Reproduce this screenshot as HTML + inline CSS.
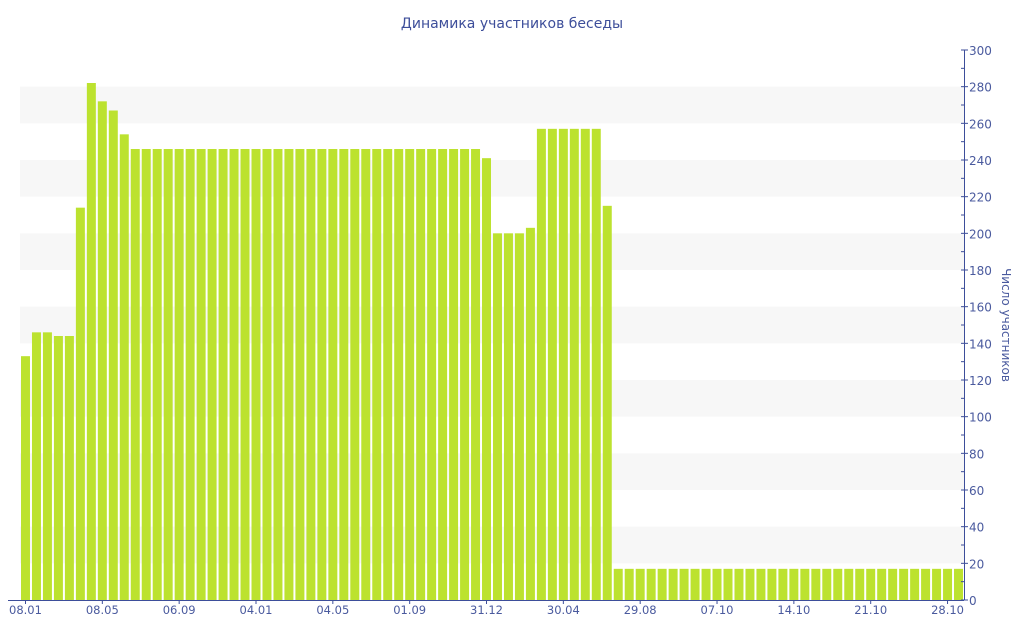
<!DOCTYPE html>
<html><head><meta charset="utf-8"><style>
body{margin:0;background:#fff;}
svg{display:block;font-family:"DejaVu Sans","Liberation Sans",sans-serif;}
</style></head><body>
<svg id="c" width="1024" height="640" xmlns="http://www.w3.org/2000/svg"></svg>
<script>
const s=document.getElementById('c');let h='';
const Y=v=>600-v*550/300;
for(let v=20;v<300;v+=40){h+=`<rect x="20" y="${Y(v+20)}" width="944" height="${550/300*20}" fill="#f7f7f7"/>`;}
const vals=[133,146,146,144,144,214,282,272,267,254];
for(let i=10;i<=41;i++)vals.push(246);
vals.push(241,200,200,200,203,257,257,257,257,257,257,215);
while(vals.length<86)vals.push(17);
const p=944/86;
vals.forEach((v,i)=>{const x=20+i*p+1;h+=`<rect x="${x.toFixed(2)}" y="${Y(v).toFixed(2)}" width="${(p-2).toFixed(2)}" height="${(600-Y(v)).toFixed(2)}" fill="#bce22f"/>`;});
h+=`<line x1="8" y1="600.5" x2="964" y2="600.5" stroke="#3d4e9a" stroke-width="1"/>`;
const lab=['08.01','08.05','06.09','04.01','04.05','01.09','31.12','30.04','29.08','07.10','14.10','21.10','28.10'];
lab.forEach((l,k)=>{const x=20+(k*7+0.5)*p;h+=`<line x1="${x}" y1="600" x2="${x}" y2="604" stroke="#3d4e9a"/><text x="${x}" y="614" font-size="11.5" fill="#4a5a9e" text-anchor="middle">${l}</text>`;});
h+=`<line x1="964.5" y1="50" x2="964.5" y2="600" stroke="#3d4e9a"/>`;
for(let v=0;v<=300;v+=10){const y=Y(v);if(v%20==0){h+=`<line x1="961" y1="${y}" x2="968" y2="${y}" stroke="#3d4e9a"/><text x="969" y="${y+5}" font-size="12" fill="#4a5a9e">${v}</text>`;}else h+=`<line x1="961" y1="${y}" x2="964" y2="${y}" stroke="#3d4e9a"/>`;}
h+=`<text transform="translate(1002,325) rotate(90)" font-size="12" fill="#4a5a9e" text-anchor="middle">Число участников</text>`;
h+=`<text x="512" y="28" font-size="14" fill="#3d4e9a" text-anchor="middle">Динамика участников беседы</text>`;
s.innerHTML=h;
</script>
</body></html>
